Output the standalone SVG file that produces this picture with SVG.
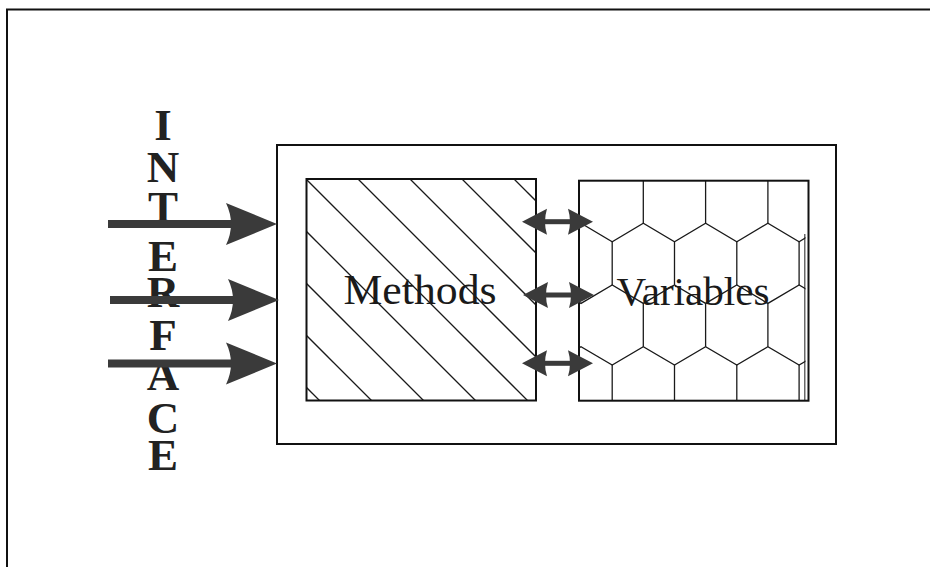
<svg xmlns="http://www.w3.org/2000/svg" width="930" height="567" viewBox="0 0 930 567">
  <style>
    .box { fill: none; stroke: #111; stroke-width: 2; }
    .thin { fill: none; stroke: #1a1a1a; stroke-width: 1.3; }
    .lbl { font-family: "Liberation Serif", "Times New Roman", serif; fill: #1a1a1a; text-anchor: middle; }
    .iface { font-family: "Liberation Serif", "Times New Roman", serif; font-weight: bold; font-size: 45px; fill: #222; text-anchor: middle; }
    .arr { fill: #3a3a3a; }
  </style>
  <defs>
    <clipPath id="clipM"><rect x="306.5" y="179" width="229.5" height="221.5"/></clipPath>
    <clipPath id="clipV"><rect x="579" y="180.7" width="226.5" height="220"/></clipPath>
    <g id="bigArrow">
      <rect x="108" y="-4" width="124" height="8"/>
      <path d="M226,-21 L277,0 L226,21 Q236,0 226,-21 Z"/>
    </g>
    <g id="dblArrow">
      <rect x="540" y="-2.5" width="35" height="5"/>
      <path d="M522,0 L547,-13 Q543,0 547,13 Z"/>
      <path d="M593,0 L568,-13 Q572,0 568,13 Z"/>
    </g>
  </defs>
  <rect width="930" height="567" fill="#fff"/>

  <g id="frame">
    <path class="box" d="M7,575 V9.5 H935"/>
  </g>

  <g id="object">
    <rect class="box" x="277" y="145" width="559" height="299"/>
  </g>

  <g id="methods">
    <g clip-path="url(#clipM)" class="thin">
      <line x1="88" y1="169" x2="329" y2="410"/>
      <line x1="140" y1="169" x2="381" y2="410"/>
      <line x1="192" y1="169" x2="433" y2="410"/>
      <line x1="244" y1="169" x2="485" y2="410"/>
      <line x1="296" y1="169" x2="537" y2="410"/>
      <line x1="348" y1="169" x2="589" y2="410"/>
      <line x1="400" y1="169" x2="641" y2="410"/>
      <line x1="452" y1="169" x2="693" y2="410"/>
      <line x1="504" y1="169" x2="745" y2="410"/>
    </g>
    <rect class="box" x="306.5" y="179" width="229.5" height="221.5"/>
    <text class="lbl" x="420" y="304" font-size="42" textLength="153" lengthAdjust="spacingAndGlyphs">Methods</text>
  </g>

  <g id="variables">
    <g clip-path="url(#clipV)" class="thin">
      <!-- row 1 verticals -->
      <path d="M643.3,180 V223.3 M705.6,180 V223.3 M767.9,180 V223.3"/>
      <!-- zigzag 1 -->
      <path d="M549.8,241.7 L581,223.3 L612.2,241.7 L643.3,223.3 L674.5,241.7 L705.6,223.3 L736.8,241.7 L767.9,223.3 L799.1,241.7 L830.2,223.3"/>
      <!-- row 2 verticals -->
      <path d="M612.2,241.7 V285 M674.5,241.7 V285 M736.8,241.7 V285 M799.1,241.7 V285"/>
      <!-- zigzag 2 -->
      <path d="M549.8,285 L581,303.4 L612.2,285 L643.3,303.4 L674.5,285 L705.6,303.4 L736.8,285 L767.9,303.4 L799.1,285 L830.2,303.4"/>
      <!-- row 3 verticals -->
      <path d="M643.3,303.4 V346.7 M705.6,303.4 V346.7 M767.9,303.4 V346.7"/>
      <!-- zigzag 3 -->
      <path d="M549.8,365 L581,346.7 L612.2,365 L643.3,346.7 L674.5,365 L705.6,346.7 L736.8,365 L767.9,346.7 L799.1,365 L830.2,346.7"/>
      <!-- row 4 verticals -->
      <path d="M612.2,365 V401 M674.5,365 V401 M736.8,365 V401 M799.1,365 V401"/>
      <path d="M805,234 V401"/>
    </g>
    <rect class="box" x="579" y="180.7" width="229.5" height="220"/>
    <text class="lbl" x="693" y="305" font-size="41" textLength="153" lengthAdjust="spacingAndGlyphs">Variables</text>
  </g>

  <g id="interface">
    <text class="iface" x="163" y="140">I</text>
    <text class="iface" x="163" y="182">N</text>
    <text class="iface" x="163" y="222">T</text>
    <text class="iface" x="163" y="271">E</text>
    <text class="iface" x="163" y="307">R</text>
    <text class="iface" x="163" y="350">F</text>
    <text class="iface" x="163" y="390">A</text>
    <text class="iface" x="163" y="433">C</text>
    <text class="iface" x="163" y="470">E</text>
  </g>

  <g id="connectors" class="arr">
    <use href="#bigArrow" transform="translate(0,224)"/>
    <use href="#bigArrow" transform="translate(2,300)"/>
    <use href="#bigArrow" transform="translate(0,363.5)"/>
    <use href="#dblArrow" transform="translate(0,221.7)"/>
    <use href="#dblArrow" transform="translate(1,295)"/>
    <use href="#dblArrow" transform="translate(0,363.3)"/>
  </g>
</svg>
